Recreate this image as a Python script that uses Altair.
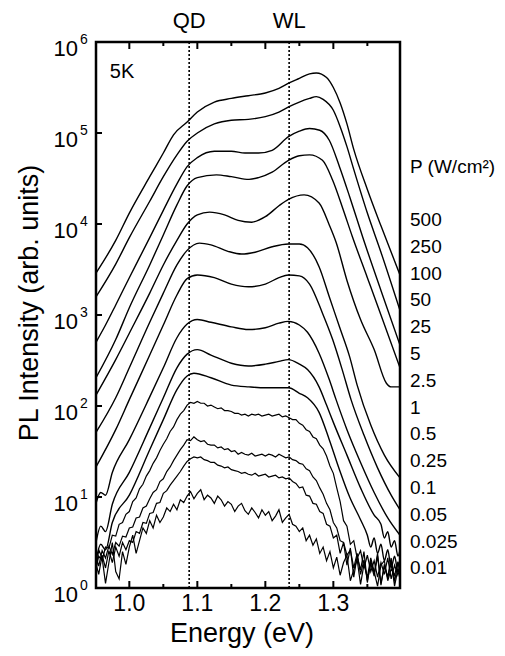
import altair as alt
import pandas as pd

# ---------------- data ----------------
power_labels = ["500", "250", "100", "50", "25", "5", "2.5", "1",
                "0.5", "0.25", "0.1", "0.05", "0.025", "0.01"]

# smooth spectra: photon energy (eV) and log10 of PL intensity
e_500 = [0.951, 0.98, 1.00, 1.03, 1.05, 1.065, 1.085, 1.10, 1.125, 1.15,
         1.175, 1.20, 1.22, 1.235, 1.25, 1.265, 1.275, 1.29, 1.30, 1.31,
         1.32, 1.33, 1.35, 1.37, 1.398]
lg_500 = [3.46, 3.82, 4.12, 4.52, 4.78, 4.98, 5.12, 5.23, 5.34, 5.38,
          5.41, 5.44, 5.49, 5.55, 5.60, 5.65, 5.66, 5.61, 5.50, 5.33,
          5.10, 4.82, 4.38, 3.98, 3.44]

e_250 = [0.951, 0.98, 1.00, 1.03, 1.05, 1.07, 1.085, 1.10, 1.125, 1.15,
         1.175, 1.20, 1.22, 1.235, 1.25, 1.265, 1.275, 1.285, 1.30, 1.31,
         1.32, 1.33, 1.35, 1.37, 1.398]
lg_250 = [3.20, 3.56, 3.85, 4.25, 4.52, 4.76, 4.91, 5.00, 5.10, 5.14,
          5.15, 5.18, 5.23, 5.29, 5.34, 5.38, 5.40, 5.37, 5.25, 5.07,
          4.85, 4.60, 4.12, 3.69, 3.05]

e_100 = [0.951, 0.965, 0.98, 1.00, 1.03, 1.05, 1.07, 1.085, 1.10, 1.125,
         1.15, 1.17, 1.19, 1.21, 1.234, 1.25, 1.265, 1.28, 1.294, 1.309,
         1.324, 1.343, 1.37, 1.398]
lg_100 = [2.70, 2.89, 3.11, 3.41, 3.85, 4.15, 4.44, 4.63, 4.73, 4.80,
          4.80, 4.78, 4.78, 4.81, 4.96, 5.02, 5.05, 5.03, 4.92, 4.63,
          4.30, 3.86, 3.27, 2.67]

e_50 = [0.951, 0.98, 1.00, 1.03, 1.05, 1.07, 1.085, 1.10, 1.128, 1.15,
        1.176, 1.19, 1.21, 1.234, 1.25, 1.265, 1.284, 1.299, 1.313, 1.328,
        1.35, 1.37, 1.398]
lg_50 = [2.31, 2.73, 3.08, 3.55, 3.88, 4.21, 4.42, 4.51, 4.54, 4.52,
         4.49, 4.51, 4.57, 4.70, 4.75, 4.76, 4.70, 4.48, 4.19, 3.86,
         3.41, 3.00, 2.42]

e_25 = [0.951, 0.98, 1.00, 1.03, 1.05, 1.07, 1.085, 1.10, 1.118, 1.14,
        1.16, 1.18, 1.20, 1.22, 1.234, 1.257, 1.279, 1.294, 1.304, 1.32,
        1.34, 1.36, 1.378, 1.385, 1.398]
lg_25 = [2.12, 2.51, 2.80, 3.24, 3.55, 3.82, 4.00, 4.10, 4.13, 4.10,
         4.04, 4.02, 4.08, 4.20, 4.27, 4.32, 4.23, 3.99, 3.80, 3.38,
         2.95, 2.62, 2.25, 2.21, 2.21]

e_5 = [0.951, 0.98, 1.00, 1.03, 1.05, 1.07, 1.085, 1.103, 1.12, 1.145,
       1.165, 1.185, 1.21, 1.234, 1.25, 1.262, 1.279, 1.294, 1.309, 1.324,
       1.335, 1.355, 1.375, 1.398]
lg_5 = [1.71, 2.09, 2.42, 2.92, 3.24, 3.55, 3.71, 3.79, 3.77, 3.70,
        3.67, 3.69, 3.75, 3.78, 3.78, 3.74, 3.53, 3.20, 2.87, 2.54,
        2.23, 1.79, 1.46, 1.21]

e_2p5 = [0.951, 0.98, 1.00, 1.03, 1.05, 1.07, 1.085, 1.10, 1.125, 1.15,
         1.175, 1.20, 1.22, 1.234, 1.25, 1.265, 1.284, 1.299, 1.313, 1.326,
         1.345, 1.365, 1.385, 1.398]
lg_2p5 = [1.33, 1.74, 2.07, 2.56, 2.89, 3.22, 3.40, 3.44, 3.41, 3.34,
          3.31, 3.34, 3.41, 3.44, 3.43, 3.34, 3.02, 2.73, 2.40, 2.07,
          1.68, 1.32, 1.02, 0.86]

e_1 = [0.951, 0.958, 0.965, 0.975, 1.00, 1.03, 1.05, 1.07, 1.085, 1.10,
       1.12, 1.15, 1.175, 1.20, 1.22, 1.234, 1.25, 1.262, 1.279, 1.294,
       1.304, 1.32, 1.34, 1.36, 1.38, 1.398]
lg_1 = [0.93, 1.05, 1.02, 1.27, 1.63, 2.10, 2.42, 2.75, 2.90, 2.95,
        2.92, 2.87, 2.84, 2.86, 2.91, 2.93, 2.89, 2.81, 2.58, 2.29,
        2.07, 1.74, 1.38, 1.05, 0.77, 0.58]

e_0p5 = [0.951, 0.958, 0.965, 0.975, 1.00, 1.03, 1.05, 1.07, 1.085, 1.10,
         1.12, 1.15, 1.175, 1.20, 1.22, 1.234, 1.25, 1.262, 1.279, 1.29,
         1.30, 1.32, 1.34, 1.36, 1.37, 1.375, 1.38, 1.385, 1.39, 1.395,
         1.398]
lg_0p5 = [0.50, 0.68, 0.62, 0.92, 1.27, 1.76, 2.09, 2.42, 2.57, 2.62,
          2.56, 2.47, 2.44, 2.46, 2.49, 2.51, 2.46, 2.40, 2.21, 2.01,
          1.82, 1.46, 1.10, 0.80, 0.70, 0.55, 0.62, 0.45, 0.52, 0.35,
          0.42]

e_0p25 = [0.951, 0.958, 0.965, 0.975, 1.00, 1.03, 1.05, 1.07, 1.085, 1.095,
          1.12, 1.15, 1.176, 1.20, 1.234, 1.25, 1.262, 1.279, 1.294, 1.309,
          1.324, 1.34, 1.35, 1.355, 1.36, 1.365, 1.37, 1.375, 1.38, 1.385,
          1.39, 1.395, 1.398]
lg_0p25 = [0.30, 0.48, 0.42, 0.72, 1.02, 1.52, 1.85, 2.18, 2.33, 2.36,
           2.31, 2.23, 2.21, 2.20, 2.20, 2.14, 2.09, 1.93, 1.63, 1.30,
           1.00, 0.75, 0.58, 0.45, 0.55, 0.38, 0.48, 0.30, 0.42, 0.22,
           0.35, 0.18, 0.30]

# noisy low-power spectra, sampled every 5 meV
e_grid = [0.950, 0.955, 0.960, 0.965, 0.970, 0.975, 0.980, 0.985, 0.990, 0.995,
          1.000, 1.005, 1.010, 1.015, 1.020, 1.025, 1.030, 1.035, 1.040, 1.045,
          1.050, 1.055, 1.060, 1.065, 1.070, 1.075, 1.080, 1.085, 1.090, 1.095,
          1.100, 1.105, 1.110, 1.115, 1.120, 1.125, 1.130, 1.135, 1.140, 1.145,
          1.150, 1.155, 1.160, 1.165, 1.170, 1.175, 1.180, 1.185, 1.190, 1.195,
          1.200, 1.205, 1.210, 1.215, 1.220, 1.225, 1.230, 1.235, 1.240, 1.245,
          1.250, 1.255, 1.260, 1.265, 1.270, 1.275, 1.280, 1.285, 1.290, 1.295,
          1.300, 1.305, 1.310, 1.315, 1.320, 1.325, 1.330, 1.335, 1.340, 1.345,
          1.350, 1.355, 1.360, 1.365, 1.370, 1.375, 1.380, 1.385, 1.390, 1.395,
          1.400]
lg_0p1 = [0.18, 0.35, 0.30, 0.45, 0.44, 0.58, 0.57, 0.70, 0.72, 0.81,
          0.84, 0.95, 0.99, 1.09, 1.14, 1.23, 1.29, 1.37, 1.43, 1.51,
          1.58, 1.64, 1.72, 1.77, 1.85, 1.91, 1.95, 2.01, 2.04, 2.03,
          2.05, 2.03, 2.03, 2.00, 2.01, 1.99, 1.97, 1.98, 1.95, 1.95,
          1.94, 1.92, 1.92, 1.90, 1.91, 1.89, 1.91, 1.90, 1.91, 1.89,
          1.90, 1.91, 1.89, 1.90, 1.91, 1.88, 1.89, 1.87, 1.85, 1.85,
          1.81, 1.79, 1.74, 1.72, 1.66, 1.64, 1.57, 1.53, 1.45, 1.34,
          1.26, 1.10, 0.95, 0.74, 0.68, 0.48, 0.52, 0.33, 0.41, 0.22,
          0.36, 0.18, 0.30, 0.12, 0.28, 0.15, 0.33, 0.10, 0.25, 0.14,
          0.27]
lg_0p05 = [0.38, 0.24, 0.41, 0.33, 0.46, 0.37, 0.50, 0.46, 0.57, 0.56,
           0.66, 0.67, 0.77, 0.78, 0.88, 0.90, 0.98, 1.05, 1.08, 1.17,
           1.20, 1.28, 1.33, 1.40, 1.46, 1.52, 1.57, 1.63, 1.62, 1.66,
           1.63, 1.61, 1.62, 1.58, 1.57, 1.57, 1.54, 1.55, 1.52, 1.53,
           1.50, 1.51, 1.47, 1.49, 1.47, 1.46, 1.48, 1.45, 1.46, 1.47,
           1.45, 1.47, 1.46, 1.44, 1.47, 1.45, 1.43, 1.44, 1.41, 1.40,
           1.37, 1.36, 1.31, 1.29, 1.22, 1.18, 1.10, 1.03, 0.93, 0.86,
           0.72, 0.66, 0.52, 0.50, 0.36, 0.42, 0.22, 0.38, 0.15, 0.31,
           0.08, 0.27, 0.13, 0.35, 0.05, 0.24, 0.11, 0.30, 0.02, 0.21,
           0.09]
lg_0p025 = [0.30, 0.15, 0.36, 0.22, 0.41, 0.28, 0.45, 0.35, 0.50, 0.42,
            0.52, 0.50, 0.62, 0.60, 0.72, 0.71, 0.82, 0.83, 0.93, 0.94,
            1.04, 1.07, 1.13, 1.18, 1.23, 1.28, 1.34, 1.39, 1.42, 1.44,
            1.43, 1.44, 1.41, 1.40, 1.38, 1.38, 1.35, 1.34, 1.32, 1.33,
            1.30, 1.29, 1.28, 1.26, 1.27, 1.25, 1.24, 1.26, 1.23, 1.24,
            1.25, 1.22, 1.23, 1.24, 1.21, 1.22, 1.20, 1.21, 1.17, 1.15,
            1.10, 1.11, 1.02, 1.01, 0.93, 0.92, 0.84, 0.82, 0.70, 0.68,
            0.55, 0.58, 0.38, 0.50, 0.25, 0.44, 0.12, 0.35, 0.20, 0.40,
            0.06, 0.30, 0.16, 0.38, 0.03, 0.26, 0.12, 0.33, 0.07, 0.28,
            0.15]
lg_0p01 = [0.15, 0.42, 0.33, 0.05, 0.28, 0.50, 0.18, 0.10, 0.40, 0.26,
           0.45, 0.58, 0.38, 0.52, 0.66, 0.60, 0.74, 0.66, 0.80, 0.72,
           0.78, 0.88, 0.84, 0.92, 0.86, 0.97, 0.94, 1.01, 1.06, 0.98,
           1.04, 1.08, 0.97, 1.02, 0.99, 0.93, 1.01, 0.97, 0.90, 0.95,
           0.92, 0.84, 0.90, 0.93, 0.85, 0.81, 0.88, 0.83, 0.77, 0.86,
           0.80, 0.84, 0.74, 0.79, 0.86, 0.72, 0.77, 0.81, 0.70, 0.68,
           0.62, 0.66, 0.52, 0.58, 0.47, 0.54, 0.38, 0.45, 0.30, 0.40,
           0.22, 0.34, 0.14, 0.28, 0.36, 0.08, 0.20, 0.31, 0.04, 0.26,
           0.12, 0.33, 0.18, 0.02, 0.25, 0.30, 0.08, 0.21, 0.14, 0.29,
           0.10]

qd_energy = 1.088
wl_energy = 1.235
x_major = [1.0, 1.1, 1.2, 1.3]
x_minor = [1.05, 1.15, 1.25, 1.35]
y_exponents = [0, 1, 2, 3, 4, 5, 6]

# ---------------- tables ----------------
smooth_sets = [("500", e_500, lg_500), ("250", e_250, lg_250), ("100", e_100, lg_100),
               ("50", e_50, lg_50), ("25", e_25, lg_25), ("5", e_5, lg_5),
               ("2.5", e_2p5, lg_2p5), ("1", e_1, lg_1), ("0.5", e_0p5, lg_0p5),
               ("0.25", e_0p25, lg_0p25)]
rows = []
for lab, es, lgs in smooth_sets:
    for e, v in zip(es, lgs):
        rows.append({"P": lab, "E": e, "I": 10 ** v})
df_smooth = pd.DataFrame(rows)

noisy_sets = [("0.1", lg_0p1), ("0.05", lg_0p05), ("0.025", lg_0p025), ("0.01", lg_0p01)]
rows = []
for lab, lgs in noisy_sets:
    for e, v in zip(e_grid, lgs):
        rows.append({"P": lab, "E": e, "I": 10 ** v})
df_noisy = pd.DataFrame(rows)

W, H = 304, 546
FONT = "Liberation Sans"
xs = alt.Scale(domain=[0.951, 1.398], nice=False, zero=False)
ys = alt.Scale(type="log", domain=[1, 1e6], nice=False)

smooth_layer = alt.Chart(df_smooth).mark_line(
    interpolate="monotone", color="black", strokeWidth=1.4, clip=True
).encode(
    x=alt.X("E:Q", scale=xs, axis=None),
    y=alt.Y("I:Q", scale=ys, axis=None),
    detail="P:N",
)
noisy_layer = alt.Chart(df_noisy).mark_line(
    color="black", strokeWidth=1.2, clip=True
).encode(
    x=alt.X("E:Q", scale=xs, axis=None),
    y=alt.Y("I:Q", scale=ys, axis=None),
    detail="P:N",
)

df_lines = pd.DataFrame({"E": [qd_energy, wl_energy], "name": ["QD", "WL"]})
vlines = alt.Chart(df_lines).mark_rule(
    color="black", strokeDash=[2, 2], strokeWidth=1.6
).encode(x=alt.X("E:Q", scale=xs), y=alt.value(0), y2=alt.value(H))
vlabels = alt.Chart(df_lines).mark_text(
    font=FONT, fontSize=22, color="black", baseline="middle", align="center"
).encode(x=alt.X("E:Q", scale=xs), y=alt.value(-21), text="name:N")

df_y = pd.DataFrame({"val": [10.0 ** n for n in y_exponents],
                     "sup": [str(n) for n in y_exponents]})
yticks = alt.Chart(df_y).mark_rule(color="black", strokeWidth=2).encode(
    y=alt.Y("val:Q", scale=ys), x=alt.value(0), x2=alt.value(6))
ylab10 = alt.Chart(df_y).mark_text(
    font=FONT, fontSize=22, align="right", baseline="middle", dy=7, color="black"
).encode(y=alt.Y("val:Q", scale=ys), x=alt.value(-18), text=alt.value("10"))
ylabsup = alt.Chart(df_y).mark_text(
    font=FONT, fontSize=14, align="left", baseline="middle", dy=-2, color="black"
).encode(y=alt.Y("val:Q", scale=ys), x=alt.value(-16), text="sup:N")

df_xmaj = pd.DataFrame({"E": x_major, "lab": [f"{v:.1f}" for v in x_major]})
df_xmin = pd.DataFrame({"E": x_minor})
bot_major = alt.Chart(df_xmaj).mark_rule(color="black", strokeWidth=2).encode(
    x=alt.X("E:Q", scale=xs), y=alt.value(H), y2=alt.value(H - 7))
top_major = alt.Chart(df_xmaj).mark_rule(color="black", strokeWidth=2).encode(
    x=alt.X("E:Q", scale=xs), y=alt.value(0), y2=alt.value(7))
bot_minor = alt.Chart(df_xmin).mark_rule(color="black", strokeWidth=2).encode(
    x=alt.X("E:Q", scale=xs), y=alt.value(H), y2=alt.value(H - 4))
top_minor = alt.Chart(df_xmin).mark_rule(color="black", strokeWidth=2).encode(
    x=alt.X("E:Q", scale=xs), y=alt.value(0), y2=alt.value(4))
xlabels = alt.Chart(df_xmaj).mark_text(
    font=FONT, fontSize=23, align="center", baseline="middle", color="black"
).encode(x=alt.X("E:Q", scale=xs), y=alt.value(H + 16), text="lab:N")

legend_text = ["P (W/cm²)"] + power_labels
df_p = pd.DataFrame({"lab": legend_text,
                     "ypx": [125] + [178 + 26.8 * i for i in range(len(power_labels))]})
plabels = alt.Chart(df_p).mark_text(
    font=FONT, fontSize=19, align="left", baseline="middle", color="black"
).encode(x=alt.value(314), y=alt.Y("ypx:Q", scale=None), text="lab:N")

df_one = pd.DataFrame({"k": [0]})
temp_label = alt.Chart(df_one).mark_text(
    font=FONT, fontSize=20, align="center", baseline="middle", color="black", text="5K"
).encode(x=alt.value(26), y=alt.value(30))
xtitle = alt.Chart(df_one).mark_text(
    font=FONT, fontSize=27, align="center", baseline="middle", color="black", text="Energy (eV)"
).encode(x=alt.value(146), y=alt.value(592))
ytitle = alt.Chart(df_one).mark_text(
    font=FONT, fontSize=27, align="center", baseline="middle", color="black",
    angle=270, text="PL Intensity (arb. units)"
).encode(x=alt.value(-66), y=alt.value(261))

chart = alt.layer(
    smooth_layer, noisy_layer, vlines, vlabels, yticks, ylab10, ylabsup,
    bot_major, top_major, bot_minor, top_minor, xlabels, plabels,
    temp_label, xtitle, ytitle,
).properties(
    width=W, height=H,
    padding={"left": 88, "top": 34, "right": 97, "bottom": 60},
    autosize=alt.AutoSizeParams(type="none"),
    background="white",
).configure_view(stroke="black", strokeWidth=2.5)

chart.save("out.html", embed_options={"renderer": "svg", "actions": False})
